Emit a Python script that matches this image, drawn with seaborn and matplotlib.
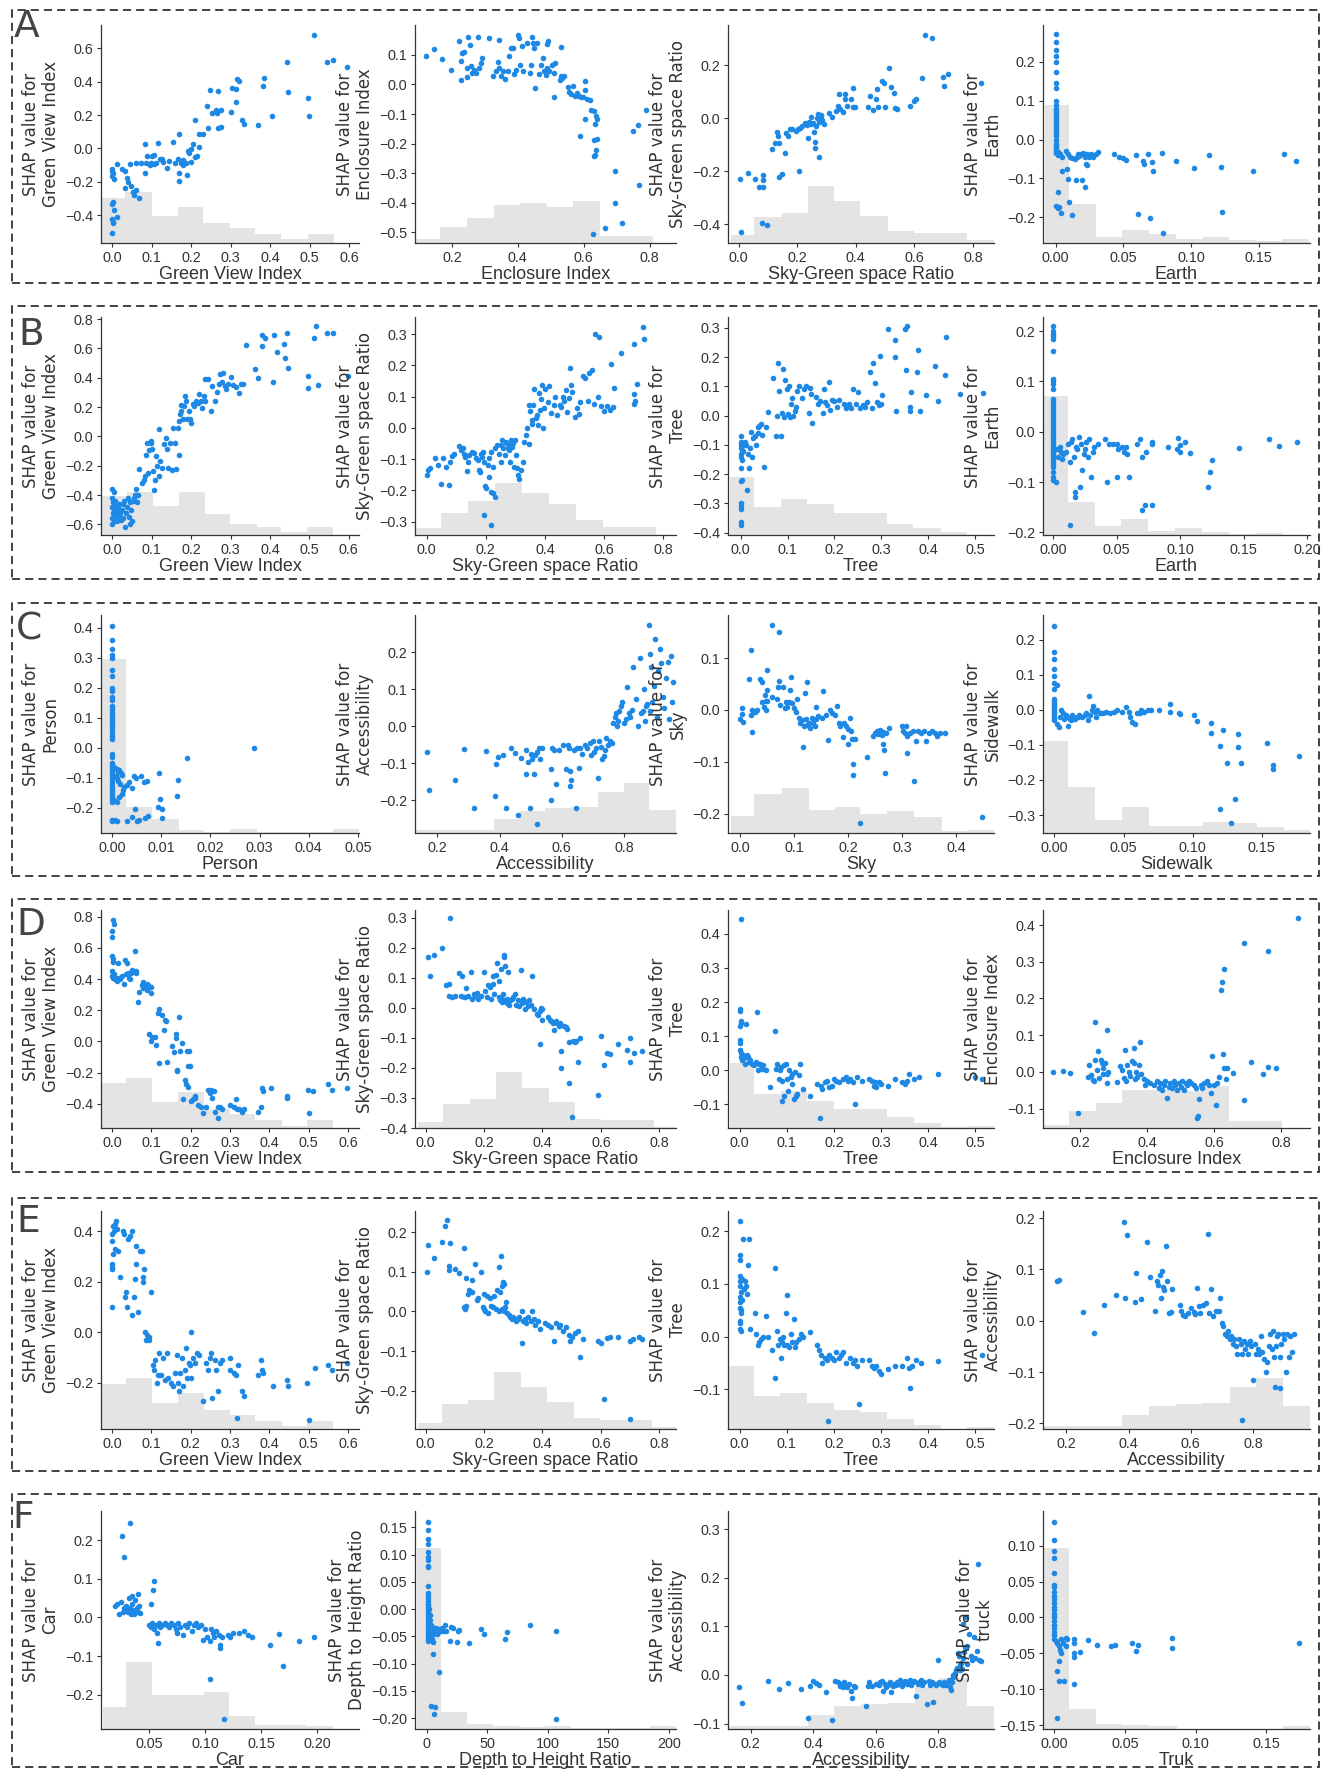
import matplotlib
matplotlib.use("Agg")
import matplotlib.pyplot as plt
from matplotlib.patches import Rectangle
import pandas as pd
import seaborn as sns

plt.rcParams['font.family'] = ['Liberation Sans', 'DejaVu Sans']
plt.rcParams['axes.unicode_minus'] = True


def col(x, ys):
    return [(x, y) for y in ys]

# ======================= DATA =======================
# ---------- Row A ----------
a1_pts = [(0.000,-0.125),(0.002,-0.145),(0.000,-0.165),(0.005,-0.185),(0.001,-0.135),(0.000,-0.334),(0.003,-0.32),(0.005,-0.368),
          (0.000,-0.424),(0.002,-0.44),(0.003,-0.448),(0.012,-0.414),(0.001,-0.51),(0.013,-0.096),(0.024,-0.125),(0.032,-0.135),
          (0.037,-0.175),(0.041,-0.2),(0.047,-0.225),(0.034,-0.24),(0.053,-0.26),(0.060,-0.25),(0.055,-0.28),(0.068,-0.30),
          (0.045,-0.096),(0.060,-0.09),(0.074,-0.086),(0.086,-0.086),(0.083,-0.145),(0.083,0.024),(0.089,-0.046),(0.097,-0.096),
          (0.099,-0.086),(0.102,-0.046),(0.107,-0.038),(0.112,-0.086),(0.117,0.03),(0.122,-0.066),(0.127,-0.062),(0.138,-0.115),
          (0.143,-0.076),(0.153,0.038),(0.167,-0.066),(0.169,-0.145),(0.169,0.088),(0.169,-0.195),(0.174,-0.086),(0.179,-0.07),
          (0.188,-0.086),(0.190,-0.16),(0.193,-0.016),(0.200,-0.006),(0.205,0.024),(0.210,0.173),(0.216,-0.046),(0.219,0.088),
          (0.231,0.084),(0.240,0.257),(0.244,0.123),(0.252,0.213),(0.247,0.352),(0.268,0.342),(0.262,0.233),(0.265,0.213),
          (0.267,0.125),(0.275,0.233),(0.275,0.127),(0.301,0.217),(0.304,0.36),(0.313,0.356),(0.314,0.277),(0.316,0.416),
          (0.322,0.402),(0.328,0.173),(0.335,0.149),(0.369,0.143),(0.382,0.376),(0.384,0.42),(0.406,0.193),(0.444,0.52),
          (0.445,0.34),(0.496,0.3),(0.498,0.193),(0.511,0.68),(0.545,0.516),(0.558,0.53),(0.595,0.488),(0.095,-0.1),
          (0.105,-0.095),(0.13,-0.08),(0.16,-0.09),(0.18,-0.1),(0.2,-0.08),(0.21,-0.05),(0.22,0.01),(0.195,-0.03)]
a1_edges = [-0.026, 0.034, 0.1, 0.167, 0.231, 0.299, 0.363, 0.428, 0.496, 0.561]
a1_hist = [0.207, 0.234, 0.123, 0.167, 0.090, 0.067, 0.041, 0.018, 0.041]

a2_pts = [(0.12,0.097),(0.145,0.12),(0.171,0.085),(0.196,0.049),(0.222,0.148),(0.228,0.08),(0.228,0.016),(0.232,0.105),
          (0.237,0.111),(0.247,0.055),(0.25,0.162),(0.254,0.134),(0.247,0.025),(0.258,0.061),(0.26,0.038),(0.266,0.049),
          (0.273,0.038),(0.279,0.159),(0.283,0.055),(0.289,0.074),(0.292,0.091),(0.314,0.156),(0.324,0.029),(0.334,0.046),
          (0.339,0.077),(0.343,0.15),(0.343,0.055),(0.35,0.027),(0.356,0.044),(0.36,0.018),(0.369,0.044),(0.373,0.097),
          (0.378,0.122),(0.385,0.122),(0.388,0.035),(0.394,0.049),(0.401,0.167),(0.404,0.156),(0.407,0.066),(0.413,0.13),
          (0.416,0.046),(0.429,0.141),(0.436,0.04),(0.439,0.065),(0.442,0.159),(0.447,0.141),(0.449,0.122),(0.452,-0.012),
          (0.458,0.141),(0.465,0.036),(0.471,0.066),(0.477,0.089),(0.48,0.047),(0.484,0.033),(0.488,0.137),(0.49,0.055),
          (0.493,0.148),(0.496,0.047),(0.503,0.066),(0.509,0.038),(0.509,-0.043),(0.513,0.072),(0.528,0.016),(0.531,0.125),
          (0.532,0.029),(0.535,0.021),(0.541,0.027),(0.551,-0.009),(0.554,-0.024),(0.56,-0.031),(0.567,-0.004),(0.573,-0.04),
          (0.58,-0.029),(0.586,-0.038),(0.592,-0.043),(0.599,-0.043),(0.605,0.013),(0.605,-0.02),(0.611,-0.049),(0.618,-0.052),
          (0.588,-0.175),(0.605,-0.116),(0.622,-0.085),(0.63,-0.09),(0.635,-0.135),(0.638,-0.106),(0.64,-0.117),(0.632,-0.188),
          (0.63,-0.242),(0.635,-0.237),(0.638,-0.222),(0.64,-0.186),(0.629,-0.504),(0.664,-0.484),(0.695,-0.293),(0.695,-0.402),
          (0.716,-0.469),(0.748,-0.159),(0.765,-0.136),(0.767,-0.339),(0.79,-0.085)]
a2_edges = [0.091, 0.164, 0.247, 0.328, 0.407, 0.488, 0.567, 0.65, 0.730, 0.810]
a2_hist = [0.018, 0.075, 0.114, 0.175, 0.183, 0.167, 0.193, 0.033, 0.033]

a3_pts = [(0.004,-0.227),(0.032,-0.205),(0.056,-0.230),(0.070,-0.258),(0.082,-0.214),(0.082,-0.233),(0.082,-0.258),
          (0.01,-0.43),(0.079,-0.395),(0.098,-0.402),(0.114,-0.115),(0.125,-0.092),(0.132,-0.050),(0.136,-0.065),
          (0.139,-0.092),(0.139,-0.220),(0.147,-0.208),(0.157,-0.130),(0.161,-0.055),(0.168,-0.065),(0.175,-0.040),
          (0.182,-0.042),(0.197,-0.046),(0.204,-0.040),(0.205,-0.199),(0.211,-0.037),(0.218,-0.027),(0.226,-0.017),
          (0.233,-0.025),(0.237,-0.075),(0.240,-0.012),(0.247,0.004),(0.247,-0.020),(0.254,-0.017),(0.257,-0.050),
          (0.261,-0.090),(0.261,-0.110),(0.266,-0.027),(0.269,0.000),(0.272,0.016),(0.276,-0.146),(0.276,-0.015),
          (0.280,0.007),(0.283,0.012),(0.286,-0.005),(0.290,-0.021),(0.309,0.022),(0.319,0.004),(0.333,0.029),
          (0.341,0.047),(0.343,0.091),(0.348,0.035),(0.355,0.025),(0.362,0.072),(0.365,0.091),(0.369,0.047),
          (0.384,0.072),(0.391,0.116),(0.391,0.041),(0.398,0.041),(0.441,0.041),(0.448,0.085),(0.458,0.031),
          (0.470,0.072),(0.473,0.110),(0.477,0.041),(0.491,0.141),(0.496,0.132),(0.499,0.041),(0.513,0.188),
          (0.520,0.120),(0.530,0.097),(0.534,0.039),(0.542,0.035),(0.585,0.047),(0.599,0.066),(0.606,0.072),
          (0.625,0.151),(0.635,0.315),(0.659,0.303),(0.697,0.156),(0.703,0.122),(0.714,0.166),(0.829,0.132)]
a3_edges = [-0.026, 0.053, 0.147, 0.236, 0.326, 0.415, 0.509, 0.599, 0.688, 0.779, 0.872]
a3_hist = [0.035, 0.121, 0.136, 0.262, 0.194, 0.126, 0.056, 0.045, 0.045, 0.015]

a4_pts = col(0.0, [0.271,0.251,0.231,0.215,0.2,0.173,0.147,0.134,0.1,0.088,0.075,0.07,0.06,0.055,0.045,0.04,0.03,
                   0.025,0.02,0.015,0.01,0.0,-0.01,-0.02,-0.03,-0.172]) + \
         col(0.0006, [0.08,0.065,0.05,0.035,-0.015,-0.025,-0.035]) + \
         [(0.0015,-0.04),(0.0016,-0.032),(0.0031,-0.037),(0.0047,-0.044),(0.005,-0.081),(0.0084,-0.075),(0.0093,-0.101),
          (0.0016,-0.135),(0.0016,-0.175),(0.0025,-0.174),(0.010,-0.161),(0.0037,-0.189),(0.0118,-0.195),(0.0078,-0.028),
          (0.0093,-0.037),(0.0109,-0.044),(0.0124,-0.047),(0.014,-0.050),(0.0156,-0.045),(0.0162,-0.037),(0.0171,-0.041),
          (0.0187,-0.037),(0.0202,-0.035),(0.0218,-0.044),(0.0233,-0.037),(0.0249,-0.045),(0.0265,-0.037),(0.028,-0.044),
          (0.0296,-0.037),(0.0317,-0.032),(0.0149,-0.105),(0.0196,-0.103),(0.0218,-0.121),(0.0227,-0.062),(0.0233,-0.065),
          (0.043,-0.037),(0.0467,-0.044),(0.0498,-0.047),(0.0523,-0.052),(0.0591,-0.039),(0.0647,-0.054),(0.0654,-0.062),
          (0.0685,-0.037),(0.0716,-0.058),(0.0722,-0.082),(0.0784,-0.035),(0.0887,-0.056),(0.102,-0.074),(0.113,-0.039),
          (0.122,-0.071),(0.146,-0.082),(0.169,-0.037),(0.178,-0.054),(0.0607,-0.192),(0.07,-0.201),(0.0794,-0.24),
          (0.123,-0.185)]
a4_edges = [-0.0078, 0.01, 0.0296, 0.0492, 0.0691, 0.0887, 0.109, 0.128, 0.148, 0.167, 0.187]
a4_hist = [0.633, 0.177, 0.027, 0.058, 0.043, 0.018, 0.027, 0.012, 0.009, 0.02]

# ---------- Row B ----------
b1_pts = [(0.0,-0.36),(0.003,-0.38),(0.0,-0.42),(0.002,-0.45),(0.0,-0.48),(0.004,-0.50),(0.001,-0.52),(0.006,-0.54),
          (0.0,-0.56),(0.003,-0.58),(0.0,-0.60),(0.008,-0.47),(0.010,-0.50),(0.012,-0.53),(0.015,-0.49),(0.018,-0.55),
          (0.020,-0.52),(0.022,-0.57),(0.025,-0.50),(0.028,-0.46),(0.030,-0.44),(0.032,-0.62),(0.035,-0.52),(0.038,-0.48),
          (0.040,-0.42),(0.042,-0.55),(0.045,-0.45),(0.048,-0.50),(0.050,-0.58),(0.052,-0.44),(0.055,-0.42),(0.058,-0.40),
          (0.060,-0.36),(0.062,-0.45),(0.065,-0.40),(0.012,-0.58),(0.006,-0.44),(0.017,-0.46),(0.026,-0.56),(0.044,-0.60),
          (0.067,-0.222),(0.076,-0.318),(0.080,-0.295),(0.083,-0.272),(0.086,-0.124),(0.088,-0.043),(0.090,-0.249),
          (0.094,-0.094),(0.097,-0.032),(0.099,-0.043),(0.101,-0.089),(0.104,-0.238),(0.106,-0.364),(0.109,-0.295),
          (0.111,-0.135),(0.114,-0.204),(0.117,-0.268),(0.119,0.048),(0.121,-0.169),(0.126,-0.215),(0.130,-0.055),
          (0.135,-0.009),(0.138,-0.089),(0.142,-0.215),(0.145,-0.048),(0.151,-0.227),(0.154,0.059),(0.159,-0.043),
          (0.161,-0.222),(0.166,0.059),(0.169,0.105),(0.169,-0.124),(0.171,0.151),(0.173,0.174),(0.175,0.213),
          (0.180,0.121),(0.182,0.208),(0.184,0.277),(0.187,0.243),(0.190,0.117),(0.194,0.174),(0.197,0.117),
          (0.200,0.094),(0.205,0.220),(0.208,0.208),(0.213,0.243),(0.218,0.231),(0.221,0.288),(0.225,0.243),
          (0.228,0.197),(0.232,0.277),(0.234,0.243),(0.236,0.391),(0.242,0.391),(0.249,0.174),(0.254,0.346),
          (0.260,0.243),(0.265,0.300),(0.270,0.357),(0.273,0.426),(0.277,0.368),(0.280,0.432),(0.286,0.346),
          (0.288,0.323),(0.294,0.357),(0.301,0.403),(0.306,0.350),(0.315,0.334),(0.322,0.295),(0.327,0.357),
          (0.332,0.357),(0.340,0.625),(0.363,0.460),(0.369,0.396),(0.379,0.620),(0.381,0.693),(0.387,0.670),
          (0.408,0.368),(0.410,0.693),(0.418,0.574),(0.436,0.632),(0.439,0.533),(0.443,0.705),(0.445,0.467),
          (0.497,0.410),(0.497,0.327),(0.512,0.675),(0.516,0.753),(0.522,0.350),(0.545,0.705),(0.561,0.705),
          (0.597,0.414)]
b1_edges = [-0.026, 0.036, 0.102, 0.169, 0.234, 0.298, 0.366, 0.429, 0.495, 0.561]
b1_hist = [0.177, 0.195, 0.131, 0.195, 0.097, 0.049, 0.038, 0.015, 0.038]

b2_pts = [(0.0,-0.151),(0.005,-0.135),(0.01,-0.13),(0.03,-0.098),(0.04,-0.12),(0.048,-0.181),(0.054,-0.098),(0.065,-0.125),
          (0.077,-0.183),(0.08,-0.108),(0.087,-0.09),(0.094,-0.085),(0.108,-0.058),(0.116,-0.072),(0.123,-0.066),
          (0.126,-0.085),(0.13,-0.093),(0.137,-0.139),(0.14,-0.108),(0.145,-0.087),(0.152,-0.076),(0.159,-0.082),
          (0.166,-0.098),(0.173,-0.103),(0.178,-0.135),(0.181,-0.14),(0.184,-0.085),(0.188,-0.093),(0.192,-0.076),
          (0.195,-0.108),(0.198,-0.186),(0.202,-0.194),(0.21,-0.157),(0.217,-0.205),(0.224,-0.21),(0.232,-0.221),
          (0.195,-0.279),(0.217,-0.311),(0.207,-0.119),(0.21,-0.098),(0.217,-0.077),(0.224,-0.125),(0.232,-0.064),
          (0.239,-0.055),(0.246,-0.085),(0.25,-0.108),(0.253,-0.055),(0.256,-0.039),(0.26,-0.066),(0.264,-0.087),
          (0.267,-0.05),(0.27,-0.045),(0.274,-0.064),(0.277,-0.055),(0.28,-0.071),(0.283,-0.108),(0.286,-0.039),
          (0.289,-0.06),(0.292,-0.05),(0.295,-0.125),(0.298,-0.039),(0.302,-0.087),(0.305,-0.13),(0.308,-0.151),
          (0.312,-0.164),(0.319,-0.135),(0.326,-0.108),(0.33,-0.045),(0.336,-0.022),(0.34,-0.002),(0.345,-0.051),
          (0.347,0.074),(0.35,0.053),(0.355,0.025),(0.358,0.014),(0.36,0.072),(0.364,0.126),(0.37,0.033),(0.373,0.04),
          (0.376,0.008),(0.38,0.112),(0.383,0.057),(0.386,0.094),(0.39,0.138),(0.393,-0.002),(0.398,0.063),(0.4,0.126),
          (0.41,0.084),(0.413,0.134),(0.42,0.047),(0.43,0.072),(0.433,0.098),(0.44,0.04),(0.45,0.072),(0.455,0.067),
          (0.46,0.1),(0.465,0.085),(0.47,0.121),(0.475,0.051),(0.48,0.097),(0.485,0.191),(0.488,0.138),(0.49,0.114),
          (0.5,0.036),(0.51,0.063),(0.515,0.044),(0.52,0.083),(0.528,0.165),(0.535,0.16),(0.545,0.086),(0.55,0.176),
          (0.56,0.185),(0.565,0.075),(0.568,0.299),(0.583,0.292),(0.58,0.1),(0.59,0.07),(0.6,0.055),(0.61,0.07),
          (0.62,0.058),(0.622,0.206),(0.63,0.068),(0.632,0.129),(0.658,0.24),(0.7,0.11),(0.701,0.267),(0.702,0.077),
          (0.705,0.087),(0.712,0.142),(0.73,0.323),(0.735,0.284)]
b2_edges = [-0.036, 0.048, 0.140, 0.231, 0.322, 0.415, 0.506, 0.596, 0.687, 0.777]
b2_hist = [0.031, 0.102, 0.157, 0.240, 0.191, 0.140, 0.069, 0.038, 0.038]

b3_pts = col(0.0, [-0.07,-0.09,-0.11,-0.13,-0.18,-0.3,-0.31,-0.32,-0.365,-0.375]) + \
         [(0.001,-0.1),(0.002,-0.12),(0.001,-0.14),(0.003,-0.105),(0.002,-0.22),(0.001,-0.225),(0.004,-0.095),
          (0.005,-0.12),(0.003,-0.15),(0.013,-0.255),(0.01,-0.09),(0.012,-0.1),(0.015,-0.13),(0.017,-0.18),(0.02,-0.11),
          (0.022,-0.055),(0.024,-0.14),(0.027,-0.075),(0.03,-0.07),(0.032,-0.1),(0.036,-0.04),(0.038,-0.06),(0.04,-0.035),
          (0.043,-0.03),(0.046,-0.065),(0.05,-0.175),(0.055,-0.04),(0.058,0.012),(0.068,0.13),(0.075,-0.07),(0.08,0.18),
          (0.085,-0.07),(0.082,0.085),(0.09,0.16),(0.078,0.0),(0.088,0.01),(0.092,-0.005),(0.095,0.12),(0.098,0.09),
          (0.1,0.005),(0.102,0.1),(0.105,-0.005),(0.108,0.04),(0.11,0.06),(0.112,0.0),(0.115,0.015),(0.118,0.03),
          (0.12,0.085),(0.125,0.1),(0.13,0.06),(0.135,0.09),(0.14,0.1),(0.145,0.01),(0.148,0.095),(0.15,0.075),
          (0.152,-0.025),(0.16,0.065),(0.165,0.04),(0.17,0.05),(0.175,0.01),(0.178,0.09),(0.18,0.045),(0.185,0.035),
          (0.188,0.115),(0.19,0.02),(0.195,0.055),(0.2,0.05),(0.205,0.03),(0.21,0.055),(0.22,0.04),(0.225,0.025),
          (0.23,0.04),(0.235,0.025),(0.24,0.09),(0.245,0.04),(0.25,0.08),(0.255,0.025),(0.26,0.035),(0.265,0.03),
          (0.27,0.045),(0.275,0.15),(0.28,0.025),(0.283,0.18),(0.286,0.11),(0.29,0.045),(0.295,0.035),(0.297,0.205),
          (0.3,0.04),(0.302,0.07),(0.315,0.295),(0.33,0.26),(0.33,0.2),(0.332,0.015),(0.35,0.295),(0.355,0.305),
          (0.352,0.155),(0.363,0.08),(0.362,0.03),(0.362,0.015),(0.377,0.225),(0.375,0.15),(0.382,0.015),(0.395,0.07),
          (0.415,0.17),(0.42,0.05),(0.437,0.27),(0.435,0.14),(0.467,0.075),(0.517,0.077)]
b3_edges = [-0.022, 0.029, 0.085, 0.142, 0.199, 0.256, 0.311, 0.368, 0.426, 0.483]
b3_hist = [0.267, 0.127, 0.163, 0.140, 0.102, 0.102, 0.050, 0.031, 0.015]

b4_pts = col(0.0, [0.21,0.2,0.195,0.19,0.185,0.16,0.105,0.1,0.095,0.085,0.065,0.06,0.055,0.05,0.045,0.04,0.035,0.03,
                   0.025,0.02,0.015,0.01,0.005,0.0,-0.005,-0.01,-0.015,-0.02,-0.025,-0.03,-0.035,-0.04,-0.045,-0.05,
                   -0.055,-0.06,-0.065,-0.07,-0.08,-0.09,-0.095]) + \
         [(0.002,-0.1),(0.003,-0.035),(0.004,-0.05),(0.005,-0.03),(0.006,-0.04),(0.007,-0.055),(0.008,-0.045),
          (0.01,-0.04),(0.012,-0.025),(0.013,-0.06),(0.014,-0.02),(0.015,-0.015),(0.016,-0.05),(0.017,-0.12),
          (0.017,-0.13),(0.018,-0.03),(0.019,-0.035),(0.02,-0.01),(0.021,-0.11),(0.022,-0.025),(0.023,-0.075),
          (0.024,-0.045),(0.025,-0.035),(0.026,-0.02),(0.027,-0.05),(0.028,-0.015),(0.03,-0.09),(0.031,-0.04),
          (0.032,-0.03),(0.035,-0.025),(0.041,-0.015),(0.042,-0.1),(0.044,-0.025),(0.047,-0.025),(0.05,-0.025),
          (0.05,-0.09),(0.051,-0.035),(0.054,-0.03),(0.056,-0.04),(0.057,-0.03),(0.058,-0.045),(0.06,-0.09),
          (0.066,-0.025),(0.068,-0.015),(0.07,-0.05),(0.07,-0.155),(0.072,-0.145),(0.073,-0.04),(0.078,-0.02),
          (0.078,-0.025),(0.078,-0.145),(0.09,-0.03),(0.097,-0.035),(0.098,-0.013),(0.1,-0.027),(0.1,-0.04),
          (0.104,-0.02),(0.108,-0.043),(0.122,-0.11),(0.123,-0.08),(0.125,-0.057),(0.146,-0.032),(0.17,-0.015),
          (0.178,-0.028),(0.192,-0.02),(0.013,-0.185)]
b4_edges = [-0.0074, 0.0117, 0.0328, 0.0535, 0.0746, 0.0957, 0.117, 0.138, 0.159, 0.181]
b4_hist = [0.638, 0.150, 0.041, 0.073, 0.020, 0.031, 0.015, 0.005, 0.011]

# ---------- Row C ----------
c1_pts = col(0.0, [0.405,0.36,0.33,0.31,0.3,0.26,0.24,0.2,0.19,0.17,0.16,0.14,0.13,0.12,0.11,0.1,0.09,0.08,0.07,
                   0.06,0.05,0.04,0.03,-0.02,-0.03,-0.05,-0.06,-0.07,-0.08,-0.09,-0.1,-0.11,-0.12,-0.13,-0.14,-0.15,
                   -0.16,-0.17,-0.18,-0.24,-0.245]) + \
         [(0.0005,-0.065),(0.001,-0.07),(0.0012,-0.08),(0.0015,-0.075),(0.0018,-0.085),(0.002,-0.09),(0.0008,-0.095),
          (0.001,-0.1),(0.0013,-0.11),(0.0016,-0.12),(0.0005,-0.175),(0.001,-0.18),(0.0015,-0.165),(0.002,-0.155),
          (0.0022,-0.14),(0.0025,-0.13),(0.0007,-0.24),(0.001,-0.245),(0.003,-0.125),(0.003,-0.245),(0.0035,-0.115),
          (0.004,-0.135),(0.0045,-0.095),(0.004,-0.23),(0.005,-0.1),(0.0048,-0.205),(0.0052,-0.245),(0.0055,-0.24),
          (0.006,-0.095),(0.0065,-0.115),(0.0068,-0.235),(0.0072,-0.11),(0.0073,-0.228),(0.0096,-0.085),(0.0093,-0.198),
          (0.0098,-0.17),(0.0102,-0.205),(0.0101,-0.235),(0.0134,-0.107),(0.0133,-0.16),(0.0152,-0.033),(0.0289,-0.002)]
c1_edges = [-0.0021, 0.0029, 0.0082, 0.0136, 0.0187, 0.024, 0.0294, 0.0344, 0.0398, 0.045, 0.0502]
c1_hist = [0.80, 0.121, 0.063, 0.015, 0.004, 0.018, 0.004, 0.004, 0.004, 0.018]

c2_pts = [(0.166,-0.07),(0.174,-0.173),(0.257,-0.145),(0.285,-0.063),(0.318,-0.22),(0.356,-0.067),(0.385,-0.19),
          (0.387,-0.102),(0.395,-0.082),(0.41,-0.078),(0.422,-0.22),(0.437,-0.058),(0.45,-0.072),(0.46,-0.24),
          (0.47,-0.085),(0.485,-0.128),(0.485,-0.065),(0.49,-0.098),(0.497,-0.22),(0.5,-0.075),(0.505,-0.088),
          (0.51,-0.128),(0.513,-0.078),(0.52,-0.265),(0.52,-0.07),(0.525,-0.06),(0.53,-0.09),(0.535,-0.058),
          (0.565,-0.115),(0.565,-0.2),(0.57,-0.06),(0.575,-0.065),(0.58,-0.157),(0.59,-0.065),(0.605,-0.05),
          (0.615,-0.115),(0.62,-0.05),(0.622,-0.06),(0.625,-0.12),(0.625,-0.162),(0.63,-0.145),(0.64,-0.065),
          (0.645,-0.222),(0.65,-0.058),(0.655,-0.112),(0.66,-0.06),(0.665,-0.075),(0.675,-0.05),(0.68,-0.06),
          (0.69,-0.045),(0.695,-0.078),(0.7,-0.04),(0.705,-0.07),(0.71,-0.06),(0.715,-0.14),(0.72,-0.04),
          (0.725,-0.055),(0.73,-0.09),(0.735,-0.08),(0.74,-0.065),(0.742,-0.032),(0.75,-0.05),(0.755,-0.04),
          (0.76,-0.045),(0.765,0.008),(0.77,0.025),(0.775,0.035),(0.778,0.0),(0.78,0.015),(0.785,0.04),(0.79,0.055),
          (0.795,0.065),(0.8,0.01),(0.805,0.02),(0.81,0.105),(0.815,0.035),(0.82,0.025),(0.825,0.045),(0.83,0.16),
          (0.84,0.075),(0.845,0.0),(0.85,0.185),(0.855,0.035),(0.86,0.04),(0.865,0.1),(0.868,0.015),(0.87,0.055),
          (0.875,0.06),(0.88,0.275),(0.882,0.195),(0.885,0.04),(0.888,0.16),(0.89,0.065),(0.895,0.11),(0.9,0.235),
          (0.905,0.025),(0.91,0.15),(0.915,0.21),(0.92,0.17),(0.925,0.08),(0.93,0.05),(0.935,0.13),(0.94,0.175),
          (0.945,0.02),(0.95,0.19),(0.955,0.065),(0.958,0.12)]
c2_edges = [0.131, 0.213, 0.297, 0.381, 0.464, 0.547, 0.631, 0.715, 0.8, 0.881, 0.967]
c2_hist = [0.014, 0.014, 0.014, 0.064, 0.102, 0.113, 0.120, 0.190, 0.231, 0.105]

c3_pts = [(0.0,-0.018),(0.003,0.004),(0.004,-0.008),(0.006,-0.023),(0.017,0.06),(0.02,0.115),(0.02,-0.01),(0.022,0.0),
          (0.022,-0.042),(0.028,-0.003),(0.032,-0.0),(0.038,0.06),(0.04,0.054),(0.04,0.015),(0.044,0.005),(0.046,0.028),
          (0.048,0.018),(0.05,0.038),(0.05,0.017),(0.05,0.078),(0.048,0.0),(0.06,0.163),(0.06,0.025),(0.068,0.022),
          (0.07,0.045),(0.072,0.15),(0.072,0.055),(0.075,0.01),(0.08,0.045),(0.083,0.003),(0.085,0.016),(0.087,0.005),
          (0.09,0.015),(0.093,0.038),(0.094,0.064),(0.097,0.014),(0.1,0.003),(0.103,-0.003),(0.105,0.022),(0.11,-0.015),
          (0.112,-0.025),(0.115,-0.02),(0.116,-0.072),(0.118,-0.03),(0.12,0.033),(0.122,-0.018),(0.124,-0.028),
          (0.125,0.054),(0.127,-0.025),(0.13,-0.035),(0.133,-0.015),(0.135,-0.025),(0.138,-0.03),(0.14,-0.018),
          (0.14,0.006),(0.145,-0.012),(0.152,-0.015),(0.153,0.036),(0.16,-0.01),(0.163,-0.057),(0.166,0.0),
          (0.17,-0.005),(0.176,-0.01),(0.18,0.008),(0.183,-0.025),(0.186,-0.03),(0.19,-0.053),(0.193,-0.025),
          (0.197,-0.03),(0.2,-0.065),(0.2,-0.037),(0.204,-0.015),(0.205,-0.04),(0.208,-0.055),(0.21,-0.105),
          (0.21,-0.125),(0.212,-0.055),(0.222,-0.218),(0.235,-0.09),(0.246,-0.05),(0.25,-0.045),(0.253,-0.04),
          (0.256,-0.047),(0.26,-0.038),(0.262,-0.048),(0.265,-0.066),(0.265,-0.043),(0.267,-0.077),(0.268,-0.122),
          (0.27,-0.045),(0.275,-0.035),(0.3,-0.03),(0.302,-0.04),(0.305,-0.045),(0.307,-0.03),(0.309,-0.082),
          (0.31,-0.05),(0.315,-0.045),(0.32,-0.04),(0.322,-0.137),(0.325,-0.06),(0.33,-0.04),(0.335,-0.045),
          (0.34,-0.04),(0.345,-0.06),(0.35,-0.045),(0.355,-0.04),(0.36,-0.045),(0.365,-0.05),(0.37,-0.045),
          (0.38,-0.045),(0.448,-0.207)]
c3_edges = [-0.017, 0.027, 0.078, 0.127, 0.175, 0.223, 0.272, 0.322, 0.373, 0.422, 0.470]
c3_hist = [0.079, 0.178, 0.205, 0.105, 0.120, 0.087, 0.099, 0.075, 0.011, 0.014]

c4_pts = col(0.0, [0.24,0.165,0.145,0.115,0.095,0.075,0.06,0.03,0.025,0.02,0.015,0.01,0.005,0.0,-0.005,-0.01,
                   -0.015,-0.02,-0.025,-0.03]) + \
         [(0.0015,0.072),(0.002,-0.04),(0.003,-0.05),(0.004,-0.02),(0.005,0.0),(0.006,-0.01),(0.007,-0.025),
          (0.008,-0.015),(0.009,-0.02),(0.01,-0.045),(0.011,-0.025),(0.012,-0.03),(0.013,-0.015),(0.014,-0.02),
          (0.015,-0.025),(0.017,-0.02),(0.018,-0.015),(0.02,-0.02),(0.022,-0.015),(0.023,-0.01),(0.024,-0.03),
          (0.025,0.04),(0.026,-0.015),(0.027,0.0),(0.028,0.01),(0.029,-0.005),(0.03,-0.02),(0.031,0.0),(0.033,-0.01),
          (0.035,-0.008),(0.037,-0.005),(0.04,-0.01),(0.043,-0.005),(0.045,0.0),(0.049,-0.005),(0.052,0.008),
          (0.054,-0.005),(0.055,-0.02),(0.056,-0.035),(0.058,-0.04),(0.06,-0.01),(0.062,-0.01),(0.063,0.0),
          (0.065,-0.005),(0.068,0.0),(0.07,0.0),(0.076,0.0),(0.084,-0.005),(0.084,0.017),(0.09,-0.008),(0.091,-0.013),
          (0.101,-0.015),(0.103,-0.032),(0.113,-0.037),(0.113,-0.065),(0.12,-0.103),(0.12,-0.283),(0.122,-0.057),
          (0.125,-0.153),(0.128,-0.322),(0.131,-0.255),(0.133,-0.07),(0.133,-0.107),(0.135,-0.152),(0.154,-0.095),
          (0.158,-0.157),(0.158,-0.17),(0.177,-0.132)]
c4_edges = [-0.0074, 0.0101, 0.0295, 0.0492, 0.0686, 0.088, 0.1076, 0.127, 0.1463, 0.166, 0.185]
c4_hist = [0.424, 0.209, 0.061, 0.117, 0.033, 0.033, 0.05, 0.045, 0.027, 0.015]

# ---------- Row D ----------
d1_pts = [(0.0,0.71),(0.001,0.67),(0.002,0.78),(0.005,0.755),(0.0,0.55),(0.002,0.53),(0.003,0.51),(0.0,0.45),(0.001,0.42),
          (0.003,0.41),(0.005,0.43),(0.007,0.4),(0.01,0.41),(0.012,0.39),(0.015,0.5),(0.018,0.41),(0.02,0.4),(0.025,0.42),
          (0.03,0.37),(0.033,0.52),(0.035,0.43),(0.038,0.5),(0.04,0.44),(0.042,0.41),(0.045,0.4),(0.048,0.44),(0.05,0.46),
          (0.053,0.45),(0.058,0.58),(0.06,0.45),(0.062,0.44),(0.065,0.25),(0.068,0.32),(0.075,0.36),(0.078,0.38),
          (0.08,0.34),(0.082,0.37),(0.085,0.35),(0.088,0.37),(0.09,0.33),(0.092,0.36),(0.095,0.35),(0.098,0.31),
          (0.1,0.35),(0.095,0.05),(0.098,0.0),(0.102,0.03),(0.11,0.03),(0.112,-0.025),(0.118,0.18),(0.12,0.21),
          (0.12,-0.14),(0.128,0.17),(0.133,0.075),(0.135,0.135),(0.138,0.13),(0.14,-0.13),(0.152,-0.03),(0.158,-0.065),
          (0.162,0.05),(0.163,0.02),(0.165,-0.19),(0.166,-0.18),(0.17,0.155),(0.172,-0.06),(0.178,-0.01),(0.18,-0.37),
          (0.185,-0.25),(0.188,-0.27),(0.19,-0.06),(0.192,-0.29),(0.193,-0.16),(0.196,-0.06),(0.198,-0.16),(0.2,-0.38),
          (0.205,-0.37),(0.21,-0.36),(0.212,-0.35),(0.218,-0.41),(0.225,-0.42),(0.232,-0.46),(0.24,-0.42),(0.245,-0.31),
          (0.25,-0.33),(0.252,-0.31),(0.255,-0.36),(0.26,-0.32),(0.262,-0.45),(0.27,-0.42),(0.27,-0.49),(0.275,-0.42),
          (0.28,-0.43),(0.3,-0.41),(0.31,-0.42),(0.315,-0.37),(0.318,-0.43),(0.323,-0.43),(0.33,-0.45),(0.335,-0.43),
          (0.37,-0.45),(0.38,-0.42),(0.382,-0.3),(0.385,-0.32),(0.405,-0.3),(0.445,-0.35),(0.445,-0.36),(0.498,-0.31),
          (0.5,-0.46),(0.512,-0.32),(0.548,-0.27),(0.56,-0.31),(0.598,-0.3)]
d1_edges = [-0.026, 0.036, 0.101, 0.168, 0.234, 0.299, 0.363, 0.431, 0.496, 0.563]
d1_hist = [0.205, 0.229, 0.12, 0.165, 0.085, 0.065, 0.038, 0.011, 0.038]

d2_pts = [(0.01,0.17),(0.015,0.105),(0.03,0.175),(0.055,0.2),(0.07,0.075),(0.08,0.04),(0.082,0.08),(0.085,0.3),(0.09,0.035),
          (0.1,0.04),(0.115,0.115),(0.12,0.04),(0.125,0.105),(0.13,0.035),(0.135,0.035),(0.14,0.065),(0.145,0.04),
          (0.155,0.12),(0.16,0.03),(0.165,0.045),(0.17,0.04),(0.175,0.05),(0.18,0.03),(0.19,0.04),(0.2,0.12),(0.205,0.055),
          (0.21,0.035),(0.215,0.075),(0.22,0.07),(0.225,0.03),(0.23,0.105),(0.232,0.08),(0.235,0.045),(0.24,0.11),
          (0.245,0.15),(0.25,0.035),(0.252,0.09),(0.255,0.025),(0.258,0.13),(0.26,0.02),(0.262,0.03),(0.265,0.045),
          (0.268,0.17),(0.27,0.175),(0.272,0.14),(0.275,0.02),(0.278,0.015),(0.28,0.03),(0.282,0.12),(0.285,0.01),
          (0.29,0.025),(0.295,0.03),(0.3,0.035),(0.305,0.045),(0.31,0.01),(0.315,0.025),(0.32,0.005),(0.325,0.125),
          (0.33,0.015),(0.335,0.03),(0.34,-0.005),(0.345,0.02),(0.35,0.005),(0.355,0.025),(0.36,0.01),(0.365,0.105),
          (0.37,-0.005),(0.38,-0.02),(0.385,-0.025),(0.39,-0.01),(0.392,-0.12),(0.395,0.0),(0.398,-0.04),(0.4,-0.005),
          (0.42,-0.03),(0.425,-0.04),(0.43,-0.045),(0.435,-0.05),(0.44,-0.075),(0.445,-0.045),(0.45,-0.05),(0.455,-0.06),
          (0.46,-0.05),(0.462,-0.2),(0.465,-0.145),(0.475,-0.06),(0.48,-0.065),(0.485,-0.07),(0.49,-0.25),(0.492,-0.115),
          (0.5,-0.365),(0.505,-0.11),(0.51,-0.115),(0.515,-0.11),(0.52,-0.18),(0.53,-0.1),(0.59,-0.29),(0.6,-0.095),
          (0.61,-0.19),(0.62,-0.15),(0.63,-0.155),(0.66,-0.12),(0.69,-0.14),(0.7,-0.1),(0.7,-0.18),(0.712,-0.15),
          (0.74,-0.145)]
d2_edges = [-0.026, 0.061, 0.151, 0.241, 0.330, 0.421, 0.512, 0.601, 0.690, 0.781, 0.872]
d2_hist = [0.026, 0.111, 0.131, 0.257, 0.185, 0.118, 0.043, 0.038, 0.038, 0.005]

d3_pts = [(0.002,0.443),(0.0,0.18),(0.001,0.175),(0.002,0.145),(0.003,0.14),(0.0,0.13),(0.013,0.135),(0.037,0.17),
          (0.0,0.09),(0.001,0.08),(0.0,0.06),(0.002,0.05),(0.003,0.04),(0.005,0.03),(0.007,0.045),(0.01,0.035),
          (0.012,0.02),(0.015,0.045),(0.018,0.04),(0.02,0.025),(0.022,0.03),(0.025,0.02),(0.03,0.015),(0.035,0.025),
          (0.038,0.0),(0.04,0.02),(0.043,0.02),(0.045,0.015),(0.048,0.005),(0.05,0.015),(0.055,0.0),(0.065,-0.05),
          (0.075,0.115),(0.078,0.005),(0.08,0.02),(0.083,-0.025),(0.085,0.0),(0.088,0.01),(0.09,-0.03),(0.09,-0.09),
          (0.093,-0.075),(0.095,0.015),(0.098,0.02),(0.1,-0.025),(0.102,-0.06),(0.105,0.0),(0.108,-0.02),(0.11,-0.01),
          (0.112,-0.04),(0.115,-0.085),(0.118,-0.005),(0.12,-0.075),(0.122,-0.07),(0.125,-0.015),(0.128,0.02),
          (0.135,-0.055),(0.15,-0.075),(0.17,-0.14),(0.165,-0.04),(0.172,-0.045),(0.175,-0.055),(0.18,-0.035),
          (0.185,-0.03),(0.19,-0.05),(0.195,-0.045),(0.2,-0.025),(0.205,-0.03),(0.21,-0.035),(0.22,-0.025),(0.225,-0.02),
          (0.23,-0.03),(0.235,-0.025),(0.24,-0.035),(0.245,-0.098),(0.25,-0.02),(0.26,-0.03),(0.275,-0.025),(0.28,-0.03),
          (0.285,-0.045),(0.288,-0.035),(0.29,-0.05),(0.295,-0.035),(0.3,-0.04),(0.315,-0.045),(0.33,-0.025),
          (0.345,-0.035),(0.35,-0.04),(0.355,-0.03),(0.36,-0.01),(0.37,-0.025),(0.38,-0.02),(0.42,-0.01),(0.5,-0.02),
          (0.515,-0.025)]
d3_edges = [-0.02, 0.031, 0.0875, 0.143, 0.201, 0.256, 0.3125, 0.37, 0.427, 0.482, 0.54]
d3_hist = [0.296, 0.158, 0.170, 0.124, 0.089, 0.089, 0.051, 0.023, 0.003, 0.009]

d4_pts = [(0.12,0.0),(0.15,0.002),(0.17,-0.002),(0.195,-0.112),(0.225,-0.015),(0.228,0.018),(0.232,-0.008),(0.238,-0.022),
          (0.242,-0.025),(0.245,0.135),(0.245,0.033),(0.25,0.005),(0.255,0.058),(0.258,-0.018),(0.262,0.033),(0.265,0.025),
          (0.268,0.01),(0.27,-0.005),(0.275,0.025),(0.28,0.115),(0.28,-0.03),(0.282,-0.005),(0.285,0.0),(0.31,-0.028),
          (0.32,0.015),(0.325,0.005),(0.33,-0.018),(0.335,0.06),(0.338,-0.025),(0.34,0.02),(0.345,0.0),(0.35,-0.01),
          (0.355,0.03),(0.36,0.065),(0.362,0.025),(0.365,-0.02),(0.368,0.0),(0.37,-0.015),(0.375,0.02),(0.38,0.082),
          (0.382,-0.005),(0.39,-0.02),(0.395,-0.035),(0.4,-0.025),(0.41,-0.03),(0.42,-0.035),(0.43,-0.025),(0.435,-0.045),
          (0.44,-0.03),(0.445,-0.05),(0.45,-0.035),(0.455,-0.025),(0.46,-0.07),(0.465,-0.04),(0.47,-0.03),(0.475,-0.045),
          (0.48,-0.025),(0.485,-0.035),(0.49,-0.05),(0.495,-0.03),(0.5,-0.04),(0.505,-0.025),(0.51,-0.05),(0.515,-0.03),
          (0.52,-0.035),(0.525,-0.025),(0.53,-0.03),(0.54,-0.035),(0.545,-0.045),(0.55,-0.125),(0.553,-0.12),
          (0.555,-0.073),(0.56,-0.035),(0.565,-0.045),(0.57,-0.03),(0.58,-0.025),(0.585,-0.035),(0.59,-0.057),
          (0.595,0.042),(0.6,-0.035),(0.605,-0.09),(0.61,-0.03),(0.615,-0.015),(0.62,0.222),(0.625,0.245),(0.628,0.048),
          (0.63,0.28),(0.63,0.01),(0.635,-0.02),(0.64,0.01),(0.655,-0.003),(0.69,0.352),(0.69,-0.078),(0.71,0.028),
          (0.745,-0.005),(0.76,0.33),(0.762,0.012),(0.785,0.01),(0.85,0.418)]
d4_edges = [0.093, 0.168, 0.248, 0.326, 0.402, 0.484, 0.564, 0.644, 0.724, 0.804]
d4_hist = [0.014, 0.077, 0.116, 0.176, 0.173, 0.170, 0.193, 0.034, 0.034]

# ---------- Row E ----------
e1_pts = [(0.0,0.1),(0.0,0.26),(0.0,0.25),(0.0,0.27),(0.0,0.36),(0.001,0.39),(0.002,0.42),(0.003,0.31),(0.005,0.4),
          (0.007,0.43),(0.01,0.44),(0.008,0.33),(0.012,0.41),(0.015,0.32),(0.02,0.22),(0.028,0.4),(0.03,0.39),
          (0.032,0.14),(0.035,0.16),(0.038,0.1),(0.04,0.37),(0.045,0.38),(0.05,0.07),(0.052,0.4),(0.055,0.14),
          (0.058,0.21),(0.06,0.34),(0.062,0.27),(0.065,0.08),(0.07,0.32),(0.075,0.32),(0.078,0.22),(0.08,0.2),
          (0.082,0.25),(0.085,0.0),(0.086,-0.03),(0.09,-0.01),(0.093,-0.02),(0.095,-0.03),(0.1,0.16),(0.105,-0.13),
          (0.106,-0.15),(0.11,-0.11),(0.115,-0.2),(0.118,-0.17),(0.12,-0.08),(0.125,-0.17),(0.13,-0.1),(0.135,-0.19),
          (0.14,-0.08),(0.142,-0.18),(0.15,-0.2),(0.155,-0.21),(0.16,-0.16),(0.165,-0.09),(0.168,-0.2),(0.17,-0.23),
          (0.172,-0.16),(0.178,-0.1),(0.18,-0.21),(0.185,-0.15),(0.188,-0.06),(0.19,-0.18),(0.195,-0.12),(0.198,-0.13),
          (0.2,0.0),(0.202,-0.18),(0.205,-0.1),(0.21,-0.12),(0.215,-0.08),(0.22,-0.09),(0.232,-0.27),(0.24,-0.12),
          (0.245,-0.15),(0.25,-0.1),(0.252,-0.08),(0.255,-0.26),(0.262,-0.11),(0.265,-0.15),(0.27,-0.23),(0.275,-0.12),
          (0.28,-0.11),(0.3,-0.1),(0.3,-0.15),(0.31,-0.16),(0.315,-0.17),(0.318,-0.34),(0.32,-0.13),(0.33,-0.23),
          (0.335,-0.25),(0.37,-0.17),(0.38,-0.11),(0.382,-0.15),(0.385,-0.16),(0.41,-0.21),(0.445,-0.19),(0.447,-0.21),
          (0.497,-0.2),(0.5,-0.345),(0.515,-0.14),(0.548,-0.13),(0.56,-0.15),(0.598,-0.12)]
e1_edges = [-0.026, 0.036, 0.101, 0.168, 0.234, 0.299, 0.363, 0.431, 0.496, 0.563]
e1_hist = [0.206, 0.232, 0.119, 0.165, 0.087, 0.066, 0.038, 0.015, 0.038]

e2_pts = [(0.005,0.1),(0.01,0.168),(0.03,0.135),(0.055,0.175),(0.068,0.215),(0.075,0.23),(0.08,0.115),(0.082,0.105),
          (0.085,0.172),(0.1,0.108),(0.115,0.098),(0.13,0.16),(0.13,0.01),(0.135,0.005),(0.14,0.015),(0.14,0.085),
          (0.145,0.045),(0.15,0.055),(0.158,0.08),(0.16,0.048),(0.17,0.12),(0.175,0.03),(0.18,0.035),(0.19,0.1),
          (0.195,0.01),(0.2,0.005),(0.2,0.045),(0.205,0.0),(0.21,0.04),(0.215,-0.005),(0.22,0.035),(0.225,0.015),
          (0.23,0.01),(0.235,0.04),(0.24,0.005),(0.245,0.055),(0.25,0.112),(0.252,0.0),(0.255,0.05),(0.258,0.14),
          (0.26,0.005),(0.262,0.065),(0.265,0.075),(0.268,0.07),(0.27,0.0),(0.272,0.01),(0.275,0.025),(0.28,-0.005),
          (0.285,-0.01),(0.29,-0.015),(0.295,-0.02),(0.3,-0.015),(0.305,-0.02),(0.31,-0.025),(0.315,-0.02),(0.32,-0.015),
          (0.33,0.0),(0.33,-0.08),(0.335,-0.025),(0.34,-0.02),(0.345,-0.03),(0.35,-0.015),(0.36,-0.025),(0.365,0.0),
          (0.37,-0.02),(0.375,-0.035),(0.385,-0.025),(0.39,-0.045),(0.41,-0.03),(0.42,-0.035),(0.43,-0.04),(0.44,-0.075),
          (0.445,-0.03),(0.455,-0.04),(0.46,-0.035),(0.47,-0.05),(0.48,-0.04),(0.49,-0.06),(0.495,-0.075),(0.5,-0.065),
          (0.51,-0.055),(0.52,-0.048),(0.53,-0.115),(0.54,-0.07),(0.59,-0.075),(0.6,-0.08),(0.61,-0.22),(0.62,-0.068),
          (0.63,-0.065),(0.66,-0.065),(0.7,-0.075),(0.7,-0.272),(0.71,-0.07),(0.73,-0.065),(0.74,-0.07)]
e2_edges = [-0.027, 0.055, 0.146, 0.235, 0.325, 0.416, 0.507, 0.596, 0.685, 0.776, 0.867]
e2_hist = [0.027, 0.115, 0.133, 0.260, 0.191, 0.122, 0.050, 0.041, 0.041, 0.008]

e3_pts = col(0.0, [0.22,0.145,0.115,0.095,0.075,0.055,0.03,0.015]) + \
         [(0.001,0.155),(0.001,0.105),(0.002,0.085),(0.001,0.065),(0.002,0.045),(0.001,0.025),(0.002,0.01),(0.003,0.05),
          (0.004,0.07),(0.005,0.11),(0.007,0.185),(0.01,0.09),(0.012,0.105),(0.014,0.095),(0.015,0.08),(0.018,0.135),
          (0.02,0.185),(0.022,0.015),(0.032,0.045),(0.035,0.005),(0.038,-0.015),(0.04,-0.01),(0.045,-0.005),(0.05,0.0),
          (0.055,0.04),(0.06,0.0),(0.068,-0.025),(0.075,-0.078),(0.075,0.13),(0.08,0.01),(0.082,-0.015),(0.085,-0.005),
          (0.088,-0.04),(0.09,-0.01),(0.092,0.0),(0.095,-0.015),(0.098,0.045),(0.1,0.078),(0.1,-0.015),(0.105,-0.02),
          (0.108,0.005),(0.112,-0.01),(0.115,0.033),(0.118,-0.02),(0.12,-0.01),(0.125,-0.005),(0.13,0.005),(0.135,0.0),
          (0.15,0.008),(0.165,-0.015),(0.168,-0.025),(0.172,-0.035),(0.175,-0.05),(0.18,-0.04),(0.185,-0.045),
          (0.188,-0.16),(0.19,-0.035),(0.195,-0.04),(0.2,-0.045),(0.205,-0.03),(0.21,-0.04),(0.215,-0.035),(0.22,-0.03),
          (0.225,-0.05),(0.235,-0.04),(0.24,-0.05),(0.245,-0.045),(0.25,-0.055),(0.253,-0.128),(0.26,-0.045),
          (0.275,-0.045),(0.28,-0.055),(0.285,-0.06),(0.29,-0.055),(0.295,-0.065),(0.3,-0.07),(0.315,-0.062),
          (0.33,-0.055),(0.345,-0.055),(0.355,-0.04),(0.36,-0.06),(0.362,-0.098),(0.365,-0.055),(0.375,-0.045),
          (0.385,-0.05),(0.42,-0.047),(0.515,-0.035)]
e3_edges = [-0.022, 0.03, 0.086, 0.142, 0.2, 0.256, 0.312, 0.37, 0.427, 0.482, 0.54]
e3_hist = [0.29, 0.153, 0.163, 0.119, 0.087, 0.079, 0.046, 0.02, 0.0, 0.011]

e4_pts = [(0.17,0.078),(0.175,0.08),(0.255,0.018),(0.29,-0.023),(0.32,0.03),(0.36,0.05),(0.385,0.193),(0.39,0.045),
          (0.395,0.167),(0.42,0.037),(0.425,0.093),(0.44,0.042),(0.46,0.153),(0.47,0.085),(0.485,0.02),(0.49,0.078),
          (0.495,0.07),(0.5,0.09),(0.505,0.045),(0.508,0.098),(0.51,0.065),(0.515,0.06),(0.52,0.145),(0.525,0.078),
          (0.53,0.015),(0.535,0.017),(0.54,0.062),(0.565,0.03),(0.57,0.02),(0.575,0.012),(0.58,0.01),(0.59,0.015),
          (0.6,0.025),(0.61,0.018),(0.615,0.013),(0.62,0.063),(0.625,0.028),(0.63,0.015),(0.64,0.03),(0.65,0.035),
          (0.655,0.17),(0.66,0.015),(0.665,0.062),(0.67,0.01),(0.68,0.02),(0.69,0.02),(0.695,0.045),(0.7,-0.005),
          (0.705,-0.01),(0.71,-0.025),(0.715,-0.03),(0.72,-0.02),(0.725,-0.035),(0.73,-0.03),(0.735,-0.045),
          (0.74,-0.035),(0.745,-0.05),(0.75,-0.065),(0.755,-0.035),(0.76,-0.045),(0.765,-0.065),(0.765,-0.193),
          (0.77,-0.04),(0.775,-0.055),(0.78,-0.045),(0.785,-0.065),(0.79,-0.04),(0.795,-0.05),(0.8,-0.115),
          (0.805,-0.045),(0.81,-0.065),(0.815,-0.055),(0.82,-0.065),(0.825,-0.03),(0.83,-0.06),(0.835,-0.075),
          (0.84,-0.1),(0.845,-0.08),(0.85,-0.05),(0.855,-0.025),(0.86,-0.055),(0.865,-0.02),(0.868,-0.07),(0.87,-0.13),
          (0.875,-0.05),(0.878,-0.03),(0.88,-0.025),(0.885,-0.132),(0.885,-0.07),(0.89,-0.045),(0.895,-0.025),
          (0.9,-0.035),(0.905,-0.1),(0.91,-0.025),(0.915,-0.07),(0.92,-0.03),(0.925,-0.06),(0.93,-0.025)]
e4_edges = [0.128, 0.212, 0.295, 0.379, 0.465, 0.553, 0.637, 0.725, 0.811, 0.895, 0.983]
e4_hist = [0.015, 0.015, 0.015, 0.066, 0.107, 0.115, 0.119, 0.191, 0.232, 0.107]

# ---------- Row F ----------
f1_pts = [(0.02,0.03),(0.022,0.035),(0.023,0.01),(0.025,0.04),(0.026,0.21),(0.027,0.015),(0.028,0.025),(0.028,0.155),
          (0.029,0.02),(0.03,0.03),(0.031,0.015),(0.032,0.05),(0.033,0.245),(0.033,0.025),(0.034,0.01),(0.035,0.055),
          (0.035,0.035),(0.036,0.02),(0.037,0.01),(0.038,0.045),(0.039,0.025),(0.04,0.06),(0.04,0.015),(0.041,0.03),
          (0.042,0.012),(0.052,0.035),(0.054,0.07),(0.055,0.093),(0.05,-0.02),(0.052,-0.025),(0.053,-0.015),
          (0.055,-0.03),(0.056,-0.02),(0.057,-0.04),(0.058,-0.065),(0.059,-0.015),(0.06,-0.025),(0.062,-0.02),
          (0.064,-0.015),(0.066,-0.02),(0.068,-0.025),(0.07,-0.015),(0.072,-0.02),(0.074,-0.03),(0.075,-0.04),
          (0.076,-0.015),(0.078,-0.025),(0.08,-0.045),(0.082,-0.02),(0.084,-0.025),(0.086,-0.015),(0.088,-0.035),
          (0.09,-0.02),(0.092,-0.015),(0.094,-0.025),(0.096,-0.02),(0.098,-0.058),(0.1,-0.03),(0.102,-0.05),
          (0.104,-0.06),(0.104,-0.158),(0.105,-0.03),(0.107,-0.04),(0.108,-0.05),(0.11,-0.035),(0.112,-0.045),
          (0.113,-0.08),(0.113,-0.07),(0.115,-0.05),(0.117,-0.263),(0.12,-0.045),(0.122,-0.05),(0.125,-0.04),
          (0.13,-0.04),(0.135,-0.035),(0.138,-0.045),(0.142,-0.05),(0.158,-0.072),(0.166,-0.043),(0.169,-0.125),
          (0.184,-0.062),(0.197,-0.05)]
f1_edges = [0.0089, 0.03, 0.0525, 0.0766, 0.0991, 0.1217, 0.1446, 0.1676, 0.1902, 0.2138]
f1_hist = [0.099, 0.308, 0.156, 0.156, 0.168, 0.058, 0.018, 0.018, 0.012]

f2_pts = col(1.0, [0.16,0.145,0.128,0.12,0.105,0.095,0.09,0.08,0.078,0.042,0.03,0.025,0.02,0.015,0.01,0.005,0.0,
                   -0.005,-0.01,-0.015,-0.02,-0.025,-0.03,-0.035,-0.04,-0.045,-0.05,-0.055,-0.058]) + \
         [(2,0.0),(1.5,0.01),(2.5,-0.01),(3,-0.02),(3.5,-0.03),(4,-0.04),(4,-0.05),(4.5,-0.055),(5,-0.06),(5,-0.083),
          (5.5,-0.045),(6,-0.035),(6.5,-0.04),(7,-0.038),(8,-0.035),(8.5,-0.045),(9,-0.04),(10,-0.037),(10.5,-0.115),
          (11,-0.04),(12,-0.04),(13,-0.035),(14,-0.04),(15,-0.03),(16,-0.04),(19,-0.058),(20,-0.033),(22,-0.035),
          (25,-0.06),(26,-0.04),(27,-0.038),(35,-0.063),(45,-0.037),(47,-0.045),(65,-0.055),(66,-0.042),(85,-0.03),
          (107,-0.041),(4,-0.178),(7,-0.18),(6.5,-0.193),(107,-0.202)]
f2_edges = [-7.9, 11.7, 33.3, 54.9, 76.2, 97.5, 119.1, 140.7, 162.0, 184.3, 205.6]
f2_hist = [0.832, 0.079, 0.023, 0.012, 0.008, 0.015, 0.003, 0.003, 0.003, 0.015]

f3_pts = [(0.163,-0.025),(0.173,-0.058),(0.255,-0.012),(0.29,-0.028),(0.32,-0.017),(0.36,-0.028),(0.385,-0.088),
          (0.39,-0.022),(0.398,-0.012),(0.41,-0.016),(0.42,-0.02),(0.44,-0.035),(0.46,-0.092),(0.47,-0.012),(0.48,-0.015),
          (0.485,-0.022),(0.49,-0.018),(0.495,-0.025),(0.5,-0.015),(0.505,-0.02),(0.51,-0.025),(0.515,-0.018),
          (0.52,-0.033),(0.525,-0.047),(0.53,-0.022),(0.535,-0.025),(0.57,-0.063),(0.575,-0.022),(0.58,-0.015),
          (0.59,-0.022),(0.6,-0.018),(0.61,-0.02),(0.615,-0.015),(0.62,-0.012),(0.625,-0.032),(0.63,-0.018),
          (0.635,-0.025),(0.64,-0.02),(0.645,-0.015),(0.65,-0.035),(0.655,-0.022),(0.66,-0.018),(0.665,-0.02),
          (0.67,-0.015),(0.675,-0.018),(0.68,-0.01),(0.685,-0.022),(0.69,-0.015),(0.695,-0.012),(0.7,-0.018),
          (0.705,-0.015),(0.71,-0.01),(0.715,-0.02),(0.72,-0.015),(0.725,-0.012),(0.73,-0.043),(0.735,-0.018),
          (0.74,-0.015),(0.745,-0.01),(0.75,-0.02),(0.755,-0.015),(0.765,-0.06),(0.77,-0.012),(0.775,-0.02),
          (0.78,-0.015),(0.785,-0.055),(0.79,-0.018),(0.8,0.031),(0.795,-0.02),(0.805,-0.015),(0.81,-0.018),
          (0.815,-0.02),(0.82,-0.015),(0.825,-0.02),(0.83,-0.018),(0.835,-0.01),(0.84,-0.025),(0.842,-0.03),
          (0.845,-0.015),(0.848,-0.005),(0.85,0.0),(0.855,0.005),(0.858,0.01),(0.862,0.015),(0.865,0.045),(0.868,0.04),
          (0.87,0.02),(0.872,0.01),(0.875,0.025),(0.878,0.012),(0.88,0.035),(0.882,0.105),(0.885,0.048),(0.888,0.058),
          (0.89,0.12),(0.892,0.022),(0.895,0.06),(0.9,0.085),(0.905,0.04),(0.91,0.03),(0.915,0.078),(0.92,0.035),
          (0.925,0.05),(0.93,0.228),(0.933,0.03),(0.937,0.028)]
f3_edges = [0.13, 0.215, 0.299, 0.383, 0.468, 0.554, 0.638, 0.726, 0.807, 0.892, 0.98]
f3_hist = [0.015, 0.015, 0.015, 0.066, 0.107, 0.115, 0.12, 0.192, 0.233, 0.107]

f4_pts = col(0.0, [0.133,0.108,0.092,0.082,0.062,0.045,0.042,0.035,0.03,0.025,0.02,0.015,0.01,0.005,0.0,-0.005,-0.01,
                   -0.015,-0.02,-0.025,-0.03]) + \
         [(0.001,-0.032),(0.002,-0.035),(0.003,-0.04),(0.003,-0.06),(0.002,-0.075),(0.003,-0.088),(0.004,-0.045),
          (0.005,-0.03),(0.005,-0.05),(0.006,-0.035),(0.007,-0.088),(0.008,-0.04),(0.008,-0.028),(0.009,-0.03),
          (0.0015,-0.14),(0.014,-0.03),(0.014,-0.05),(0.014,-0.055),(0.014,-0.092),(0.014,-0.035),(0.018,-0.048),
          (0.024,-0.031),(0.03,-0.038),(0.04,-0.04),(0.043,-0.038),(0.055,-0.035),(0.058,-0.047),(0.059,-0.038),
          (0.083,-0.028),(0.083,-0.042),(0.173,-0.035)]
f4_edges = [-0.0075, 0.0105, 0.0295, 0.0482, 0.0672, 0.0867, 0.1054, 0.124, 0.143, 0.162, 0.181]
f4_hist = [0.832, 0.092, 0.023, 0.018, 0.012, 0.0, 0.0, 0.0, 0.0, 0.012]

row_letters = ["A", "B", "C", "D", "E", "F"]

# ======================= PANEL SPECS =======================
GVI, ENC, SGR = "Green View Index", "Enclosure Index", "Sky-Green space Ratio"
g6 = [0, 0.1, 0.2, 0.3, 0.4, 0.5, 0.6]
s8 = [0, 0.2, 0.4, 0.6, 0.8]
t5 = [0, 0.1, 0.2, 0.3, 0.4, 0.5]
a8 = [0.2, 0.4, 0.6, 0.8]

panels = [
    [dict(p=a1_pts, e=a1_edges, h=a1_hist, xl=GVI, yl=GVI, xlim=(-0.028, 0.625), ylim=(-0.567, 0.74), xt=g6, yt=[-0.4, -0.2, 0, 0.2, 0.4, 0.6]),
     dict(p=a2_pts, e=a2_edges, h=a2_hist, xl=ENC, yl=ENC, xlim=(0.088, 0.88), ylim=(-0.536, 0.201), xt=a8, yt=[-0.5, -0.4, -0.3, -0.2, -0.1, 0.0, 0.1]),
     dict(p=a3_pts, e=a3_edges, h=a3_hist, xl=SGR, yl=SGR, xlim=(-0.036, 0.872), ylim=(-0.47, 0.352), xt=s8, yt=[-0.4, -0.2, 0, 0.2]),
     dict(p=a4_pts, e=a4_edges, h=a4_hist, xl="Earth", yl="Earth", xlim=(-0.0093, 0.188), ylim=(-0.266, 0.295), xt=[0, 0.05, 0.1, 0.15], yt=[-0.2, -0.1, 0, 0.1, 0.2])],
    [dict(p=b1_pts, e=b1_edges, h=b1_hist, xl=GVI, yl=GVI, xlim=(-0.029, 0.626), ylim=(-0.673, 0.815), xt=g6, yt=[-0.6, -0.4, -0.2, 0, 0.2, 0.4, 0.6, 0.8]),
     dict(p=b2_pts, e=b2_edges, h=b2_hist, xl=SGR, yl=SGR, xlim=(-0.039, 0.843), ylim=(-0.343, 0.355), xt=s8, yt=[-0.3, -0.2, -0.1, 0, 0.1, 0.2, 0.3]),
     dict(p=b3_pts, e=b3_edges, h=b3_hist, xl="Tree", yl="Tree", xlim=(-0.027, 0.54), ylim=(-0.408, 0.337), xt=t5, yt=[-0.4, -0.3, -0.2, -0.1, 0, 0.1, 0.2, 0.3]),
     dict(p=b4_pts, e=b4_edges, h=b4_hist, xl="Earth", yl="Earth", xlim=(-0.008, 0.202), ylim=(-0.205, 0.228), xt=[0, 0.05, 0.1, 0.15, 0.2], yt=[-0.2, -0.1, 0, 0.1, 0.2])],
    [dict(p=c1_pts, e=c1_edges, h=c1_hist, xl="Person", yl="Person", xlim=(-0.0022, 0.0502), ylim=(-0.285, 0.443), xt=[0, 0.01, 0.02, 0.03, 0.04, 0.05], yt=[-0.2, -0.1, 0, 0.1, 0.2, 0.3, 0.4]),
     dict(p=c2_pts, e=c2_edges, h=c2_hist, xl="Accessibility", yl="Accessibility", xlim=(0.128, 0.967), ylim=(-0.289, 0.301), xt=a8, yt=[-0.2, -0.1, 0, 0.1, 0.2]),
     dict(p=c3_pts, e=c3_edges, h=c3_hist, xl="Sky", yl="Sky", xlim=(-0.022, 0.47), ylim=(-0.237, 0.183), xt=[0, 0.1, 0.2, 0.3, 0.4], yt=[-0.2, -0.1, 0, 0.1]),
     dict(p=c4_pts, e=c4_edges, h=c4_hist, xl="Sidewalk", yl="Sidewalk", xlim=(-0.0083, 0.185), ylim=(-0.351, 0.27), xt=[0, 0.05, 0.1, 0.15], yt=[-0.3, -0.2, -0.1, 0, 0.1, 0.2])],
    [dict(p=d1_pts, e=d1_edges, h=d1_hist, xl=GVI, yl=GVI, xlim=(-0.028, 0.628), ylim=(-0.555, 0.843), xt=g6, yt=[-0.4, -0.2, 0, 0.2, 0.4, 0.6, 0.8]),
     dict(p=d2_pts, e=d2_edges, h=d2_hist, xl=SGR, yl=SGR, xlim=(-0.036, 0.857), ylim=(-0.397, 0.326), xt=s8, yt=[-0.4, -0.3, -0.2, -0.1, 0, 0.1, 0.2, 0.3]),
     dict(p=d3_pts, e=d3_edges, h=d3_hist, xl="Tree", yl="Tree", xlim=(-0.025, 0.54), ylim=(-0.169, 0.47), xt=t5, yt=[-0.1, 0, 0.1, 0.2, 0.3, 0.4]),
     dict(p=d4_pts, e=d4_edges, h=d4_hist, xl=ENC, yl=ENC, xlim=(0.09, 0.886), ylim=(-0.153, 0.441), xt=a8, yt=[-0.1, 0, 0.1, 0.2, 0.3, 0.4])],
    [dict(p=e1_pts, e=e1_edges, h=e1_hist, xl=GVI, yl=GVI, xlim=(-0.028, 0.628), ylim=(-0.382, 0.48), xt=g6, yt=[-0.2, 0, 0.2, 0.4]),
     dict(p=e2_pts, e=e2_edges, h=e2_hist, xl=SGR, yl=SGR, xlim=(-0.036, 0.857), ylim=(-0.296, 0.253), xt=s8, yt=[-0.2, -0.1, 0, 0.1, 0.2]),
     dict(p=e3_pts, e=e3_edges, h=e3_hist, xl="Tree", yl="Tree", xlim=(-0.025, 0.54), ylim=(-0.175, 0.238), xt=t5, yt=[-0.1, 0, 0.1, 0.2]),
     dict(p=e4_pts, e=e4_edges, h=e4_hist, xl="Accessibility", yl="Accessibility", xlim=(0.125, 0.983), ylim=(-0.211, 0.214), xt=a8, yt=[-0.2, -0.1, 0, 0.1, 0.2])],
    [dict(p=f1_pts, e=f1_edges, h=f1_hist, xl="Car", yl="Car", xlim=(0.0074, 0.237), ylim=(-0.288, 0.275), xt=[0.05, 0.1, 0.15, 0.2], yt=[-0.2, -0.1, 0, 0.1, 0.2]),
     dict(p=f2_pts, e=f2_edges, h=f2_hist, xl="Depth to Height Ratio", yl="Depth to Height Ratio", xlim=(-9.6, 206), ylim=(-0.22, 0.18), xt=[0, 50, 100, 150, 200], yt=[-0.2, -0.15, -0.1, -0.05, 0, 0.05, 0.1, 0.15]),
     dict(p=f3_pts, e=f3_edges, h=f3_hist, xl="Accessibility", yl="Accessibility", xlim=(0.127, 0.98), ylim=(-0.111, 0.337), xt=a8, yt=[-0.1, 0, 0.1, 0.2, 0.3]),
     dict(p=f4_pts, e=f4_edges, h=f4_hist, xl="Truk", yl="truck", xlim=(-0.0081, 0.181), ylim=(-0.155, 0.148), xt=[0, 0.05, 0.1, 0.15], yt=[-0.15, -0.1, -0.05, 0, 0.05, 0.1])],
]

# ======================= LAYOUT (pixels) =======================
W, H = 1326, 1775
BOX_TOPS = [10, 306, 603, 899, 1198, 1494]
BOX_H = 273
BOX_X0, BOX_X1 = 12, 1319
AX_TOPS = [25, 317, 615, 910, 1211, 1511]
AX_H = 218
AX_L = [101, 415, 728, 1043]
AX_R = [359, 676, 994, 1310]
LET_POS = [(14, 9), (18, 317), (16, 611), (16, 907), (16, 1204), (12, 1500)]

DOT = "#1E88E5"
HISTC = "#e4e4e4"
AXC = "#333333"

fig = plt.figure(figsize=(W / 100, H / 100), dpi=100)


def frac_rect(left, top, right, height):
    return [left / W, 1 - (top + height) / H, (right - left) / W, height / H]


for r, row in enumerate(panels):
    for c, sp in enumerate(row):
        rect = frac_rect(AX_L[c], AX_TOPS[r], AX_R[c], AX_H)
        # background histogram
        axh = fig.add_axes(rect)
        edges = sp["e"]
        centers = [(edges[i] + edges[i + 1]) / 2 for i in range(len(edges) - 1)]
        sns.histplot(x=centers, weights=sp["h"], bins=edges, ax=axh, color=HISTC,
                     alpha=1, linewidth=0, edgecolor=HISTC, element="bars")
        axh.set_xlim(*sp["xlim"])
        axh.set_ylim(0, 1)
        axh.axis("off")
        # scatter on top
        ax = fig.add_axes(rect)
        ax.patch.set_alpha(0)
        df = pd.DataFrame(sp["p"], columns=["x", "y"])
        sns.scatterplot(data=df, x="x", y="y", ax=ax, s=16, color=DOT, linewidth=0, zorder=3)
        ax.set_xlim(*sp["xlim"])
        ax.set_ylim(*sp["ylim"])
        ax.set_xticks(sp["xt"])
        ax.set_yticks(sp["yt"])
        for s in ("top", "right"):
            ax.spines[s].set_visible(False)
        for s in ("left", "bottom"):
            ax.spines[s].set_color(AXC)
            ax.spines[s].set_linewidth(0.9)
        ax.tick_params(axis="both", direction="out", length=3, width=0.8, color=AXC,
                       labelcolor=AXC, labelsize=10.4, pad=2.5)
        ax.set_xlabel(sp["xl"], fontsize=13, color=AXC, labelpad=1.2)
        ax.set_ylabel("SHAP value for\n" + sp["yl"], fontsize=12, color=AXC,
                      family=["DejaVu Sans"], labelpad=4, linespacing=1.1)

for r in range(6):
    fig.add_artist(Rectangle((BOX_X0 / W, 1 - (BOX_TOPS[r] + BOX_H) / H),
                             (BOX_X1 - BOX_X0) / W, BOX_H / H, transform=fig.transFigure,
                             fill=False, edgecolor="#333333", linewidth=1.3,
                             linestyle=(0, (4.5, 2.8))))
    lx, ly = LET_POS[r]
    fig.text(lx / W, 1 - ly / H, row_letters[r], fontsize=27, va="top", ha="left",
             color="#444444", family=["DejaVu Sans"])

fig.savefig("out.png", dpi=100)
